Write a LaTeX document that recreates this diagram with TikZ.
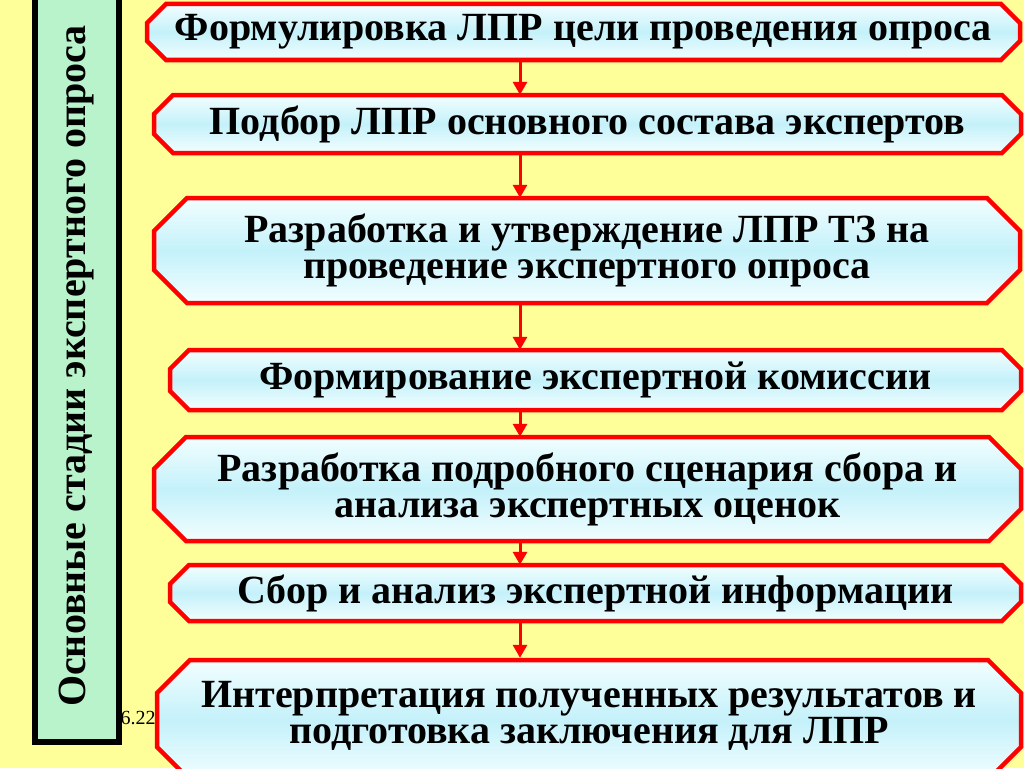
\documentclass[tikz,border=0pt]{standalone}
\usepackage{fontspec}
\setmainfont{Liberation Serif}
\usetikzlibrary{arrows.meta}
\definecolor{bgyellow}{HTML}{FFFF99}
\definecolor{sidegreen}{HTML}{B9F3CB}
\definecolor{boxlight}{HTML}{F2FEFF}
\definecolor{boxcyan}{HTML}{C4F1FA}
\tikzset{
  stageframe/.style={draw=red, line width=4.5pt, line join=miter,
    top color=boxlight, bottom color=boxlight, middle color=boxcyan},
  stage/.style={align=center, inner sep=0pt,
    font=\fontsize{40}{36}\selectfont\bfseries},
  flow/.style={draw=red, line width=3pt, -{Triangle[length=13pt,width=14pt]}},
  sidebox/.style={draw=black, line width=6pt, fill=sidegreen, inner sep=0pt,
    font=\fontsize{40}{36}\selectfont\bfseries},
}
\begin{document}
\begin{tikzpicture}[x=1pt,y=-1pt]
\useasboundingbox (0,0) rectangle (1024,768);
\fill[bgyellow] (0,0) rectangle (1024,768);
\node[font=\fontsize{20}{24}\selectfont] (date) at (138,718) {6.22};
\node[sidebox, rotate=90, minimum width=752pt, minimum height=84pt] (side) at (77,366) {Основные стадии экспертного опроса};
% octagon frames: left/top/right/bottom/chamfer
\foreach \xa/\ya/\xb/\yb/\c in {147/4/1020/60/19, 154/95/1021/153/19,
    154/198/1020/303/33, 170/350/1021/410/19, 154/437/1021/541/32,
    170/565/1021/621/19, 157/660/1021/780/33}
  \path[stageframe] (\xa+\c,\ya) -- (\xb-\c,\ya) -- (\xb,\ya+\c) -- (\xb,\yb-\c)
    -- (\xb-\c,\yb) -- (\xa+\c,\yb) -- (\xa,\yb-\c) -- (\xa,\ya+\c) -- cycle;
% stages
\node[stage, minimum height=56pt] (s1) at (583.5,32) {Формулировка ЛПР цели проведения опроса};
\node[stage, minimum height=58pt] (s2) at (587.5,124) {Подбор ЛПР основного состава экспертов};
\node[stage, minimum height=105pt] (s3) at (587,250.5) {Разработка и утверждение ЛПР ТЗ на\\проведение экспертного опроса};
\node[stage, minimum height=60pt] (s4) at (595.5,380) {Формирование экспертной комиссии};
\node[stage, minimum height=104pt] (s5) at (587.5,489) {Разработка подробного сценария сбора и\\анализа экспертных оценок};
\node[stage, minimum height=56pt] (s6) at (595.5,593) {Сбор и анализ экспертной информации};
\node[stage, minimum height=116pt] (s7) at (589,716) {Интерпретация полученных результатов и\\подготовка заключения для ЛПР};
% arrows
\coordinate (ax) at (520,0);
\draw[flow] (s1.south -| ax) -- (s2.north -| ax);
\draw[flow] (s2.south -| ax) -- (s3.north -| ax);
\draw[flow] (s3.south -| ax) -- (s4.north -| ax);
\draw[flow] (s4.south -| ax) -- (s5.north -| ax);
\draw[flow] (s5.south -| ax) -- (s6.north -| ax);
\draw[flow] (s6.south -| ax) -- (s7.north -| ax);
\end{tikzpicture}
\end{document}
